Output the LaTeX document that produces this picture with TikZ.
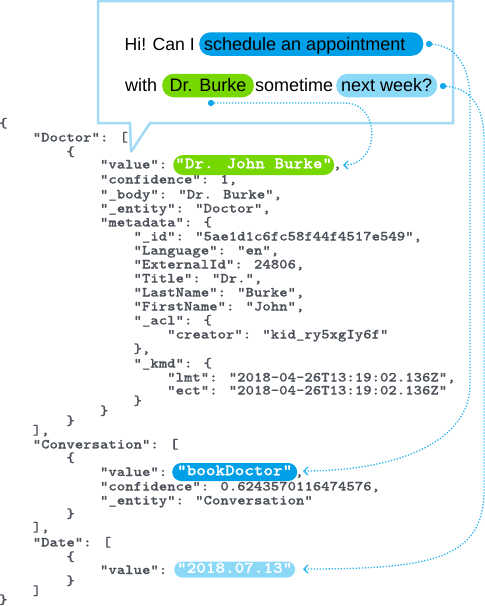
\documentclass[tikz,border=0pt]{standalone}
\usepackage{fontspec}
\newfontfamily\bubblefont{Liberation Sans}
\newfontfamily\jsonfont{lmmonolt10-bold.otf}[FakeStretch=1.143, FakeBold=0.6]
\newfontfamily\jsonpillfont{lmmonolt10-bold.otf}[FakeStretch=1.143, FakeBold=0.8]
\usetikzlibrary{arrows.meta}
\definecolor{bubbleline}{HTML}{A3DBF7}
\definecolor{pillblue}{HTML}{00A0E9}
\definecolor{pillgreen}{HTML}{77D700}
\definecolor{pilllight}{HTML}{8BD9F7}
\definecolor{linkblue}{HTML}{2AB4EE}
\definecolor{dotblue}{HTML}{14A8EC}
\definecolor{codegray}{HTML}{4C515A}
\begin{document}
\begin{tikzpicture}[x=1pt,y=-1pt,
  bubtext/.style={font=\bubblefont\fontsize{18}{18}\selectfont, inner sep=0pt,
    text height=15pt, text depth=3pt, anchor=west, text=black},
  bubpill/.style={bubtext, rounded corners=11.5pt, minimum height=23.5pt, inner xsep=#1},
  dotmark/.style={circle, fill=dotblue, inner sep=0pt, minimum size=6pt},
  link/.style={draw=linkblue, line width=1.3pt, dash pattern=on 1.3pt off 1.7pt,
    -{Straight Barb[length=4pt,width=8pt]}},
  code/.style={font=\jsonfont\fontsize{14}{14}\selectfont, text=codegray,
    inner sep=0pt, anchor=base west},
  jpill/.style={font=\jsonpillfont\fontsize{16}{16}\selectfont, text=white,
    inner sep=0pt, text height=9pt, text depth=2.5pt, anchor=west}
]
\useasboundingbox (0,0) rectangle (485,606);

% speech bubble
\draw[bubbleline, line width=2.5pt, fill=white, line join=miter, miter limit=3]
  (98,1.2) -- (453,1.2) -- (453,123) -- (150,123) -- (131,152) -- (130,123) -- (98,123) -- cycle;

% bubble text
\node[bubtext, font=\bubblefont\fontsize{17.6}{18}\selectfont] (hi) at (124.5,44) {Hi! Can I};
\node[bubpill=5pt, fill=pillblue] (sched) at (199,44) {schedule an appointment\hspace*{13pt}};
\node[bubtext] (with) at (125,85.5) {with};
\node[bubpill=7.5pt, fill=pillgreen] (burke) at (162,85.5) {Dr. Burke};
\node[bubtext] (some) at (255,85.5) {sometime};
\node[bubpill=5pt, fill=pilllight] (week) at (336,85.5) {next week?};

% JSON
\node[code] (j0) at (-1,127.5) {\{};
\node[code] (j1) at (32.6,141.5) {"Doctor": [};
\node[code] (j2) at (66.2,156) {\{};
\node[code] (j3) at (99.8,168.5) {"value":};
\node[code] (j4) at (99.8,183.5) {"confidence": 1,};
\node[code] (j5) at (99.8,198.5) {"\_body": "Dr. Burke",};
\node[code] (j6) at (99.8,212.5) {"\_entity": "Doctor",};
\node[code] (j7) at (99.8,226.5) {"metadata": \{};
\node[code] (j8) at (133.4,240.5) {"\_id": "5ae1d1c6fc58f44f4517e549",};
\node[code] (j9) at (133.4,254.5) {"Language": "en",};
\node[code] (j10) at (133.4,268.5) {"ExternalId": 24806,};
\node[code] (j11) at (133.4,282.5) {"Title": "Dr.",};
\node[code] (j12) at (133.4,296.5) {"LastName": "Burke",};
\node[code] (j13) at (133.4,310.5) {"FirstName": "John",};
\node[code] (j14) at (133.4,324.5) {"\_acl": \{};
\node[code] (j15) at (167,338.5) {"creator": "kid\_ry5xgIy6f"};
\node[code] (j16) at (133.4,353) {\},};
\node[code] (j17) at (133.4,367.5) {"\_kmd": \{};
\node[code] (j18) at (167,381.5) {"lmt": "2018-04-26T13:19:02.136Z",};
\node[code] (j19) at (167,394.5) {"ect": "2018-04-26T13:19:02.136Z"};
\node[code] (j20) at (133.4,405) {\}};
\node[code] (j21) at (99.8,415) {\}};
\node[code] (j22) at (66.2,425) {\}};
\node[code] (j23) at (32.6,434.5) {],};
\node[code] (j24) at (32.6,448.5) {"Conversation": [};
\node[code] (j25) at (66.2,462) {\{};
\node[code] (j26) at (99.8,476) {"value":};
\node[code] (j27) at (99.8,490.5) {"confidence": 0.6243570116474576,};
\node[code] (j28) at (99.8,504.5) {"\_entity": "Conversation"};
\node[code] (j29) at (66.2,518) {\}};
\node[code] (j30) at (32.6,531.5) {],};
\node[code] (j31) at (32.6,546.5) {"Date": [};
\node[code] (j32) at (66.2,561) {\{};
\node[code] (j33) at (99.8,574) {"value":};
\node[code] (j34) at (66.2,585) {\}};
\node[code] (j35) at (32.6,595) {]};
\node[code] (j36) at (-1,604) {\}};

% highlighted values
\node[jpill, fill=pillgreen, minimum width=161pt, minimum height=20pt, rounded corners=10pt]
  (v1) at (173,165) {"Dr. John Burke"};
\node[code] (c1) at (333,168.5) {,};
\node[jpill, fill=pillblue, minimum width=125pt, minimum height=18pt, rounded corners=9pt]
  (v2) at (172,472) {"bookDoctor"};
\node[code] (c2) at (295,476) {,};
\node[jpill, fill=pilllight, minimum width=121pt, minimum height=16pt, rounded corners=8pt]
  (v3) at (174,569.5) {"2018.07.13"};

% connector targets
\coordinate (t1) at (343,165);
\coordinate (t2) at (303,471);
\coordinate (t3) at (303,569);

% dots
\node[dotmark] (d1) at (429,44) {};
\node[dotmark] (d2) at (443,86) {};
\node[dotmark] (d3) at (211,103) {};

% connectors
\draw[link] (d3.center) -- (345,103) .. controls (381,103) and (381,165) .. (t1);
\draw[link] (d1.center) .. controls (455,44) and (470,65) .. (470,100) -- (470,385)
  .. controls (470,440) and (400,471) .. (t2);
\draw[link] (d2.center) .. controls (470,87) and (484,105) .. (484,140) -- (484,490)
  .. controls (484,560) and (430,569) .. (t3);

% redraw dots on top
\node[dotmark] at (d1) {};
\node[dotmark] at (d2) {};
\node[dotmark] at (d3) {};
\end{tikzpicture}
\end{document}
